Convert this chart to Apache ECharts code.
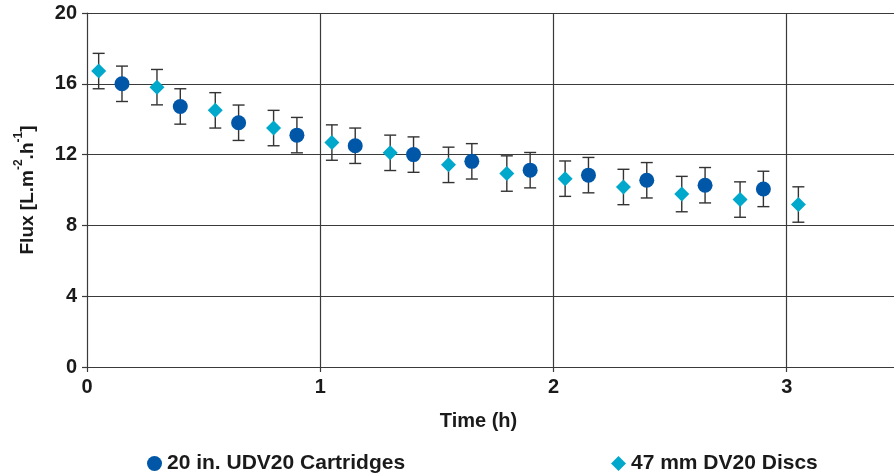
<!DOCTYPE html>
<html>
<head>
<meta charset="utf-8">
<script src="https://cdn.jsdelivr.net/npm/echarts@6/dist/echarts.min.js"></script>
<style>html,body{margin:0;padding:0;background:#fff;}#c{width:894px;height:475px;}</style>
</head>
<body>
<div id="c"></div>
<script>
var cartTime = [0.15, 0.40, 0.65, 0.90, 1.15, 1.40, 1.65, 1.90, 2.15, 2.40, 2.65, 2.90];
var cartFlux = [16.0, 14.72, 13.8, 13.1, 12.5, 12.0, 11.62, 11.12, 10.84, 10.55, 10.27, 10.06];
var cartErr  = [1.0, 1.0, 1.0, 1.0, 1.0, 1.0, 1.0, 1.0, 1.0, 1.0, 1.0, 1.0];
var discTime = [0.05, 0.30, 0.55, 0.80, 1.05, 1.30, 1.55, 1.80, 2.05, 2.30, 2.55, 2.80, 3.05];
var discFlux = [16.72, 15.81, 14.5, 13.5, 12.68, 12.1, 11.42, 10.93, 10.64, 10.17, 9.77, 9.46, 9.18];
var discErr  = [1.0, 1.0, 1.0, 1.0, 1.0, 1.0, 1.0, 1.0, 1.0, 1.0, 1.0, 1.0, 1.0];
var xTicks = ['0', '1', '2', '3'];
var yTicks = ['0', '4', '8', '12', '16', '20'];
var seriesNames = ['20 in. UDV20 Cartridges', '47 mm DV20 Discs'];

var FONT = 'Liberation Sans, Arial, sans-serif';
var TXT = '#1a1a1a';
var GRIDC = '#3a3a3a';

function pts(t, v) { return t.map(function (x, i) { return [x, v[i]]; }); }
function errs(t, v, e) { return t.map(function (x, i) { return [x, v[i] - e[i], v[i] + e[i]]; }); }

function errRender(params, api) {
  var x = api.value(0), lo = api.value(1), hi = api.value(2);
  var pLo = api.coord([x, lo]), pHi = api.coord([x, hi]);
  var w = 6;
  var st = { stroke: '#333333', lineWidth: 1.4 };
  return {
    type: 'group',
    children: [
      { type: 'line', shape: { x1: pLo[0], y1: pLo[1], x2: pHi[0], y2: pHi[1] }, style: st },
      { type: 'line', shape: { x1: pLo[0] - w, y1: pLo[1], x2: pLo[0] + w, y2: pLo[1] }, style: st },
      { type: 'line', shape: { x1: pHi[0] - w, y1: pHi[1], x2: pHi[0] + w, y2: pHi[1] }, style: st }
    ]
  };
}

// vertical grid lines at the labelled x ticks (1, 2, 3), through the axis scale
var vGrid = xTicks.slice(1).map(function (t) { return { xAxis: Number(t) }; });

var chart = echarts.init(document.getElementById('c'));
chart.setOption({
  animation: false,
  backgroundColor: '#ffffff',
  textStyle: { fontFamily: FONT },
  grid: { left: 87, top: 13, width: 807, height: 354, containLabel: false },
  xAxis: {
    type: 'value', min: 0, max: 3.46, interval: 1,
    name: 'Time (h)', nameLocation: 'middle', nameGap: 44,
    nameTextStyle: { fontFamily: FONT, fontSize: 20, fontWeight: 'bold', color: TXT, padding: [0, 24, 0, 0] },
    axisLine: { show: true, lineStyle: { color: GRIDC, width: 1.2 } },
    axisTick: { show: true, length: 5, lineStyle: { color: GRIDC, width: 1.2 } },
    axisLabel: { show: true, margin: 10, fontFamily: FONT, fontSize: 20, fontWeight: 'bold', color: TXT, showMaxLabel: false,
      formatter: function (v) { var i = xTicks.indexOf(String(v)); return i >= 0 ? xTicks[i] : ''; } },
    splitLine: { show: false }
  },
  yAxis: {
    type: 'value', min: 0, max: 20, interval: 4,
    name: '{n|Flux [L.m}{s|-2}{n|.h}{s|-1}{n|]}', nameLocation: 'middle', nameGap: 50, nameRotate: 90,
    nameTextStyle: { fontFamily: FONT, fontSize: 19, fontWeight: 'bold', color: TXT,
      rich: {
        n: { fontFamily: FONT, fontSize: 19, fontWeight: 'bold', color: TXT, lineHeight: 24, verticalAlign: 'bottom' },
        s: { fontFamily: FONT, fontSize: 12, fontWeight: 'bold', color: TXT, lineHeight: 24, verticalAlign: 'top' }
      } },
    axisLine: { show: true, lineStyle: { color: GRIDC, width: 1.2 } },
    axisTick: { show: true, length: 5, lineStyle: { color: GRIDC, width: 1.2 } },
    axisLabel: { show: true, margin: 10, fontFamily: FONT, fontSize: 20, fontWeight: 'bold', color: TXT,
      formatter: function (v) { var i = yTicks.indexOf(String(v)); return i >= 0 ? yTicks[i] : ''; } },
    splitLine: { show: true, lineStyle: { color: GRIDC, width: 1.2 } }
  },
  legend: [
    { data: [seriesNames[0]], left: 142, top: 448, icon: 'circle', itemWidth: 15, itemHeight: 15, itemGap: 6,
      textStyle: { fontFamily: FONT, fontSize: 21, fontWeight: 'bold', color: TXT } },
    { data: [seriesNames[1]], left: 606, top: 448, icon: 'diamond', itemWidth: 15, itemHeight: 15, itemGap: 6,
      textStyle: { fontFamily: FONT, fontSize: 21, fontWeight: 'bold', color: TXT } }
  ],
  series: [
    { type: 'custom', name: 'errC', renderItem: errRender, data: errs(cartTime, cartFlux, cartErr), z: 1, silent: true,
      markLine: { silent: true, symbol: ['none', 'none'], label: { show: false }, animation: false,
        lineStyle: { color: GRIDC, width: 1.2, type: 'solid' }, emphasis: { disabled: true }, data: vGrid } },
    { type: 'custom', name: 'errD', renderItem: errRender, data: errs(discTime, discFlux, discErr), z: 1, silent: true },
    { type: 'scatter', name: seriesNames[0], data: pts(cartTime, cartFlux), symbol: 'circle', symbolSize: 15,
      itemStyle: { color: '#0057a7', opacity: 1 }, z: 3 },
    { type: 'scatter', name: seriesNames[1], data: pts(discTime, discFlux), symbol: 'diamond', symbolSize: 15,
      itemStyle: { color: '#00a8cb', opacity: 1 }, z: 3 }
  ]
});
</script>
</body>
</html>
